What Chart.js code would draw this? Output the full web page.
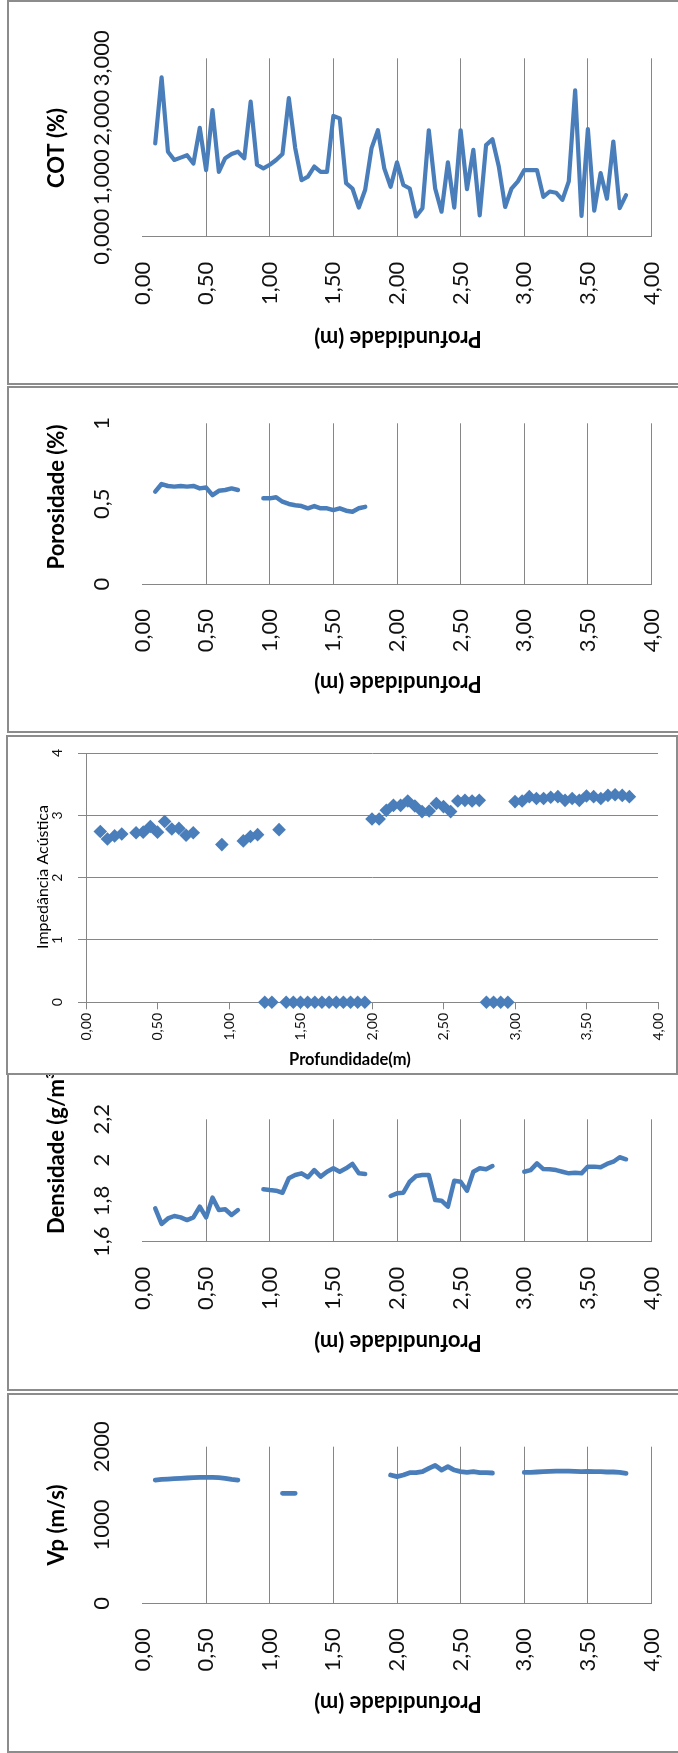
<!DOCTYPE html>
<html>
<head>
<meta charset="utf-8">
<title>Perfis por profundidade</title>
<script src="https://cdn.jsdelivr.net/npm/chart.js@4.4.0/dist/chart.umd.min.js"></script>
<style>
  html, body { margin: 0; padding: 0; background: #fff; overflow: hidden; }
  #page { position: relative; width: 678px; height: 1753px; overflow: hidden; }
  .frame { position: absolute; box-sizing: border-box; border: 2px solid #8c8c8c; background: #fff; }
  canvas { position: absolute; left: 0; }
</style>
</head>
<body>
<div id="page">
  <div class="frame" style="left:7px;top:0;width:720px;height:385px;z-index:1"></div>
  <canvas id="cotChart" width="678" height="383" style="top:0;z-index:2"></canvas>

  <div class="frame" style="left:7px;top:386px;width:720px;height:347px;z-index:1"></div>
  <canvas id="porChart" width="678" height="343" style="top:388px;z-index:2"></canvas>

  <div class="frame" style="left:6px;top:735px;width:672px;height:340px;z-index:5"></div>
  <canvas id="impChart" width="678" height="336" style="top:737px;z-index:6"></canvas>

  <div class="frame" style="left:7px;top:1055px;width:720px;height:336px;z-index:1"></div>
  <canvas id="densChart" width="678" height="349" style="top:1040px;z-index:2"></canvas>

  <div class="frame" style="left:7px;top:1393px;width:720px;height:360px;z-index:1"></div>
  <canvas id="vpChart" width="678" height="356" style="top:1395px;z-index:2"></canvas>
</div>

<script>
// tick labels
const depthTickLabels = ["0,00", "0,50", "1,00", "1,50", "2,00", "2,50", "3,00", "3,50", "4,00"];
const cotTickLabels = ["0,000", "1,000", "2,000", "3,000"];
const porTickLabels = ["0", "0,5", "1"];
const impTickLabels = ["0", "1", "2", "3", "4"];
const densTickLabels = ["1,6", "1,8", "2", "2,2"];
const vpTickLabels = ["0", "1000", "2000"];

// COT (%)
const cotDepth = [0.10, 0.15, 0.20, 0.25, 0.30, 0.35, 0.40, 0.45, 0.50, 0.55, 0.60, 0.65, 0.70, 0.75, 0.80,
  0.85, 0.90, 0.95, 1.00, 1.05, 1.10, 1.15, 1.20, 1.25, 1.30, 1.35, 1.40, 1.45, 1.50, 1.55, 1.60, 1.65,
  1.70, 1.75, 1.80, 1.85, 1.90, 1.95, 2.00, 2.05, 2.10, 2.15, 2.20, 2.25, 2.30, 2.35, 2.40, 2.45, 2.50,
  2.55, 2.60, 2.65, 2.70, 2.75, 2.80, 2.85, 2.90, 2.95, 3.00, 3.05, 3.10, 3.15, 3.20, 3.25, 3.30, 3.35,
  3.40, 3.45, 3.50, 3.55, 3.60, 3.65, 3.70, 3.75, 3.80];
const cotValues = [1.57, 2.68, 1.43, 1.29, 1.33, 1.37, 1.23, 1.83, 1.12, 2.13, 1.09, 1.32, 1.39, 1.43, 1.32,
  2.27, 1.21, 1.15, 1.21, 1.29, 1.39, 2.33, 1.49, 0.95, 1.01, 1.18, 1.09, 1.09, 2.03, 1.99, 0.90, 0.81,
  0.49, 0.79, 1.49, 1.79, 1.15, 0.84, 1.25, 0.87, 0.81, 0.34, 0.48, 1.79, 0.81, 0.42, 1.25, 0.49, 1.79,
  0.80, 1.46, 0.36, 1.54, 1.64, 1.18, 0.50, 0.81, 0.93, 1.12, 1.12, 1.12, 0.67, 0.76, 0.74, 0.62, 0.93,
  2.46, 0.35, 1.81, 0.44, 1.07, 0.64, 1.60, 0.48, 0.70];

// Porosidade (%)  (null = sem amostra)
const porDepth = [0.10, 0.15, 0.20, 0.25, 0.30, 0.35, 0.40, 0.45, 0.50, 0.55, 0.60, 0.65, 0.70, 0.75, 0.85,
  0.95, 1.00, 1.05, 1.10, 1.15, 1.20, 1.25, 1.30, 1.35, 1.40, 1.45, 1.50, 1.55, 1.60, 1.65, 1.70, 1.75];
const porValues = [0.575, 0.622, 0.61, 0.606, 0.61, 0.606, 0.61, 0.595, 0.60, 0.553, 0.58, 0.585, 0.595, 0.585, null,
  0.533, 0.533, 0.54, 0.512, 0.498, 0.49, 0.485, 0.471, 0.485, 0.471, 0.471, 0.46, 0.471, 0.456, 0.45, 0.471, 0.48];

// Impedancia acustica
const impDepth = [0.10, 0.15, 0.20, 0.25, 0.35, 0.40, 0.45, 0.50, 0.55, 0.60, 0.65, 0.70, 0.75,
  0.95, 1.10, 1.15, 1.20, 1.25, 1.30, 1.35, 1.40, 1.45, 1.50, 1.55, 1.60, 1.65, 1.70, 1.75, 1.80, 1.85, 1.90, 1.95,
  2.00, 2.05, 2.10, 2.15, 2.20, 2.25, 2.30, 2.35, 2.40, 2.45, 2.50, 2.55, 2.60, 2.65, 2.70, 2.75,
  2.80, 2.85, 2.90, 2.95,
  3.00, 3.05, 3.10, 3.15, 3.20, 3.25, 3.30, 3.35, 3.40, 3.45, 3.50, 3.55, 3.60, 3.65, 3.70, 3.75, 3.80];
const impValues = [2.74, 2.62, 2.67, 2.70, 2.72, 2.73, 2.82, 2.73, 2.90, 2.78, 2.79, 2.68, 2.72,
  2.53, 2.59, 2.66, 2.69, 0, 0, 2.77, 0, 0, 0, 0, 0, 0, 0, 0, 0, 0, 0, 0,
  2.94, 2.94, 3.08, 3.16, 3.16, 3.23, 3.15, 3.06, 3.07, 3.19, 3.14, 3.06, 3.23, 3.24, 3.23, 3.24,
  0, 0, 0, 0,
  3.22, 3.23, 3.30, 3.27, 3.27, 3.29, 3.30, 3.24, 3.27, 3.24, 3.31, 3.30, 3.27, 3.32, 3.33, 3.32, 3.30];

// Densidade (g/m3)
const densDepth = [0.10, 0.15, 0.20, 0.25, 0.30, 0.35, 0.40, 0.45, 0.50, 0.55, 0.60, 0.65, 0.70, 0.75, 0.85,
  0.95, 1.00, 1.05, 1.10, 1.15, 1.20, 1.25, 1.30, 1.35, 1.40, 1.45, 1.50, 1.55, 1.60, 1.65, 1.70, 1.75, 1.85,
  1.95, 2.00, 2.05, 2.10, 2.15, 2.20, 2.25, 2.30, 2.35, 2.40, 2.45, 2.50, 2.55, 2.60, 2.65, 2.70, 2.75, 2.85,
  3.00, 3.05, 3.10, 3.15, 3.20, 3.25, 3.30, 3.35, 3.40, 3.45, 3.50, 3.55, 3.60, 3.65, 3.70, 3.75, 3.80];
const densValues = [1.763, 1.687, 1.714, 1.726, 1.719, 1.706, 1.719, 1.772, 1.719, 1.816, 1.755, 1.759, 1.731, 1.755, null,
  1.857, 1.853, 1.850, 1.840, 1.911, 1.927, 1.935, 1.916, 1.951, 1.919, 1.943, 1.960, 1.943, 1.960, 1.981, 1.935, 1.932, null,
  1.824, 1.837, 1.840, 1.894, 1.922, 1.927, 1.927, 1.804, 1.801, 1.772, 1.899, 1.894, 1.850, 1.943, 1.960, 1.955, 1.971, null,
  1.943, 1.951, 1.984, 1.956, 1.955, 1.951, 1.943, 1.935, 1.938, 1.935, 1.968, 1.968, 1.965, 1.981, 1.992, 2.014, 2.004];

// Vp (m/s)
const vpDepth = [0.10, 0.15, 0.20, 0.25, 0.30, 0.35, 0.40, 0.45, 0.50, 0.55, 0.60, 0.65, 0.70, 0.75, 0.90,
  1.10, 1.15, 1.20, 1.50,
  1.95, 2.00, 2.05, 2.10, 2.15, 2.20, 2.25, 2.30, 2.35, 2.40, 2.45, 2.50, 2.55, 2.60, 2.65, 2.70, 2.75, 2.85,
  3.00, 3.05, 3.10, 3.15, 3.20, 3.25, 3.30, 3.35, 3.40, 3.45, 3.50, 3.55, 3.60, 3.65, 3.70, 3.75, 3.80];
const vpValues = [1574, 1583, 1587, 1591, 1596, 1600, 1604, 1609, 1609, 1609, 1604, 1596, 1583, 1574, null,
  1404, 1404, 1404, null,
  1638, 1617, 1638, 1668, 1668, 1681, 1723, 1762, 1702, 1745, 1702, 1681, 1672, 1681, 1668, 1668, 1664, null,
  1672, 1672, 1677, 1681, 1685, 1689, 1689, 1689, 1685, 1681, 1685, 1681, 1681, 1677, 1677, 1672, 1660];

const BLUE = "#4A7EBB";
const GRID = "#868686";
const FONT = "Lato, 'DejaVu Sans', sans-serif";

function pairs(xs, ys) {
  return xs.map((x, i) => ({ x: x, y: ys[i] }));
}

// all axis text is drawn rotated, like the pasted Excel charts
const rotatedText = {
  id: "rotatedText",
  afterDraw(chart, args, o) {
    const ctx = chart.ctx;
    const sx = chart.scales.x, sy = chart.scales.y;
    const dy = o.top;
    ctx.save();
    ctx.fillStyle = "#111";
    ctx.textBaseline = "middle";
    ctx.font = o.tickFont;
    sy.ticks.forEach(t => {
      ctx.save();
      ctx.translate(o.yTickX, sy.getPixelForValue(t.value));
      ctx.rotate(-Math.PI / 2);
      ctx.textAlign = "center";
      ctx.fillText(t.label, 0, 0);
      ctx.restore();
    });
    sx.ticks.forEach(t => {
      ctx.save();
      ctx.translate(sx.getPixelForValue(t.value), o.xTickTop - dy);
      ctx.rotate(-Math.PI / 2);
      ctx.textAlign = "right";
      ctx.fillText(t.label, 0, 0);
      ctx.restore();
    });

    ctx.fillStyle = "#000";
    ctx.font = o.yTitleFont;
    ctx.save();
    ctx.translate(o.yTitleX, o.yTitleY - dy);
    ctx.rotate(-Math.PI / 2);
    ctx.textAlign = o.yTitleAlign;
    ctx.fillText(o.yTitle, 0, 0);
    ctx.restore();

    ctx.font = o.xTitleFont;
    ctx.save();
    ctx.translate(o.xTitleX, o.xTitleY - dy);
    ctx.rotate(o.xTitleRot);
    ctx.textAlign = "center";
    ctx.fillText(o.xTitle, 0, 0);
    ctx.restore();
    ctx.restore();
  }
};

function depthChart(id, top, height, plot, points, yMin, yMax, yStep, yLabels, lineWidth, text) {
  return new Chart(document.getElementById(id), {
    type: "line",
    data: {
      datasets: [{
        data: points,
        borderColor: BLUE,
        borderWidth: lineWidth,
        pointRadius: 0,
        tension: 0,
        spanGaps: false,
        borderJoinStyle: "round",
        borderCapStyle: "round",
        clip: false
      }]
    },
    options: {
      responsive: false,
      animation: false,
      devicePixelRatio: 1,
      layout: { autoPadding: false, padding: { left: 0, top: plot.top - top, right: 678 - plot.right, bottom: 0 } },
      plugins: {
        legend: { display: false },
        tooltip: { enabled: false },
        rotatedText: Object.assign({
          top: top,
          tickFont: "22px " + FONT,
          yTickX: 102,
          yTitleX: 57,
          yTitleFont: "bold 22px " + FONT,
          yTitleAlign: "center",
          xTitle: "Profundidade (m)",
          xTitleFont: "bold 22px " + FONT,
          xTitleX: 398,
          xTitleRot: Math.PI,
          xTickTop: plot.bottom + 25
        }, text)
      },
      scales: {
        x: {
          type: "linear", min: 0, max: 4,
          ticks: { stepSize: 0.5, display: false, callback: (v, i) => depthTickLabels[i] },
          grid: { color: c => (c.tick && c.tick.value === 0) ? "rgba(0,0,0,0)" : GRID, lineWidth: 1, drawTicks: false },
          border: { display: true, color: GRID, width: 1 },
          afterFit: s => { s.height = top + height - plot.bottom; }
        },
        y: {
          type: "linear", min: yMin, max: yMax,
          ticks: { stepSize: yStep, display: false, callback: (v, i) => yLabels[i] },
          grid: { display: false },
          border: { display: false },
          afterFit: s => { s.width = plot.left; }
        }
      }
    },
    plugins: [rotatedText]
  });
}

depthChart("cotChart", 0, 383, { left: 142.5, right: 651.5, top: 58.3, bottom: 236.7 },
  pairs(cotDepth, cotValues), 0, 3, 1, cotTickLabels, 4.2,
  { yTitle: "COT (%)", yTitleY: 148, xTitleY: 338 });

depthChart("porChart", 388, 343, { left: 142.5, right: 651.5, top: 423.3, bottom: 584 },
  pairs(porDepth, porValues), 0, 1, 0.5, porTickLabels, 4.5,
  { yTitle: "Porosidade (%)", yTitleY: 497, xTitleY: 683 });

depthChart("densChart", 1040, 349, { left: 142.5, right: 651.5, top: 1119.3, bottom: 1241.7 },
  pairs(densDepth, densValues), 1.6, 2.2, 0.2, densTickLabels, 4.5,
  { yTitle: "Densidade (g/m³)", yTitleY: 1234, yTitleAlign: "left", xTitleY: 1342 });

depthChart("vpChart", 1395, 356, { left: 142.5, right: 651.5, top: 1446.7, bottom: 1603.3 },
  pairs(vpDepth, vpValues), 0, 2000, 1000, vpTickLabels, 4.8,
  { yTitle: "Vp (m/s)", yTitleY: 1525, xTitleY: 1703 });

// Impedancia acustica: scatter with diamonds, plain Excel axes
const impTop = 737, impHeight = 336;
const impPlot = { left: 86, right: 658, top: 753, bottom: 1002.3 };
new Chart(document.getElementById("impChart"), {
  type: "scatter",
  data: {
    datasets: [{
      data: pairs(impDepth, impValues),
      pointStyle: "rectRot",
      pointRadius: 6.8,
      backgroundColor: BLUE,
      borderColor: BLUE,
      borderWidth: 0,
      clip: false
    }]
  },
  options: {
    responsive: false,
    animation: false,
    devicePixelRatio: 1,
    layout: { autoPadding: false, padding: { left: 0, top: impPlot.top - impTop, right: 678 - impPlot.right, bottom: 0 } },
    plugins: {
      legend: { display: false },
      tooltip: { enabled: false },
      rotatedText: {
        top: impTop,
        tickFont: "14px " + FONT,
        yTickX: 57,
        xTickTop: 1013,
        yTitle: "Impedância Acústica",
        yTitleFont: "16px " + FONT,
        yTitleX: 43,
        yTitleY: 877,
        yTitleAlign: "center",
        xTitle: "Profundidade(m)",
        xTitleFont: "bold 16.5px " + FONT,
        xTitleX: 350,
        xTitleY: 1060,
        xTitleRot: 0
      }
    },
    scales: {
      x: {
        type: "linear", min: 0, max: 4,
        ticks: { stepSize: 0.5, display: false, callback: (v, i) => depthTickLabels[i] },
        grid: { drawOnChartArea: false, drawTicks: true, tickLength: 7, color: GRID },
        border: { display: true, color: GRID, width: 1 },
        afterFit: s => { s.height = impTop + impHeight - impPlot.bottom; }
      },
      y: {
        type: "linear", min: 0, max: 4,
        ticks: { stepSize: 1, display: false, callback: (v, i) => impTickLabels[i] },
        grid: { color: GRID, drawTicks: true, tickLength: 8 },
        border: { display: true, color: GRID, width: 1 },
        afterFit: s => { s.width = impPlot.left; }
      }
    }
  },
  plugins: [rotatedText]
});
</script>
</body>
</html>
